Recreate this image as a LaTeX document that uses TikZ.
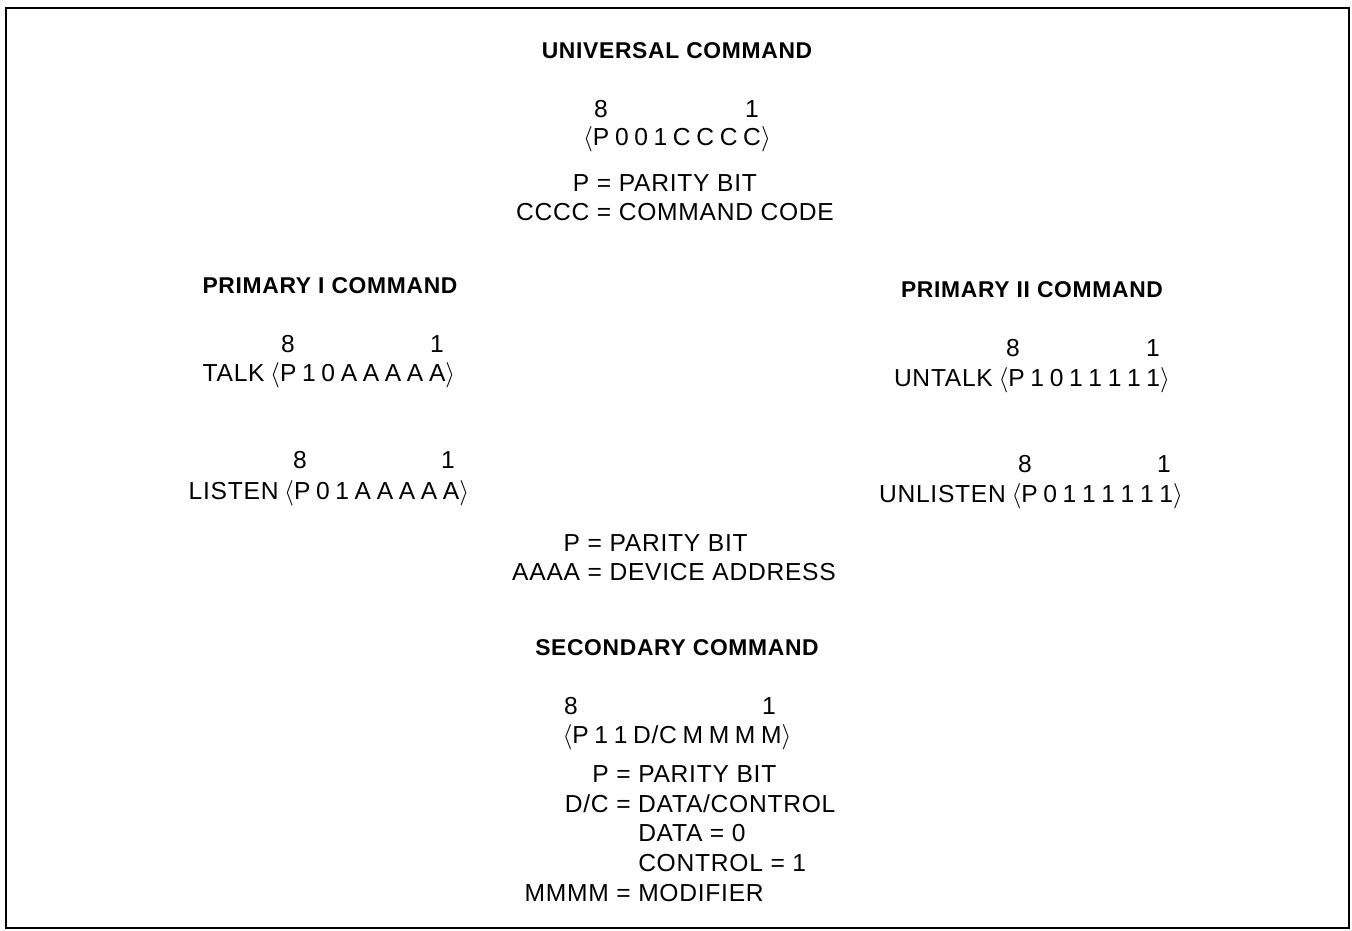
\documentclass[tikz,border=0pt]{standalone}
\usepackage{fontspec}
\setmainfont{Liberation Sans}[LetterSpace=3]
\usetikzlibrary{positioning}

\begin{document}
\begin{tikzpicture}[x=0.02cm, y=-0.02cm,
    txt/.style={anchor=base, inner sep=0pt, font=\fontsize{14}{17}\selectfont},
    bits/.style={txt, font={\fontsize{14}{17}\selectfont\spaceskip 0.23em\relax}},
    head/.style={txt, font=\fontsize{13}{17}\selectfont\bfseries},
    key/.style={inner sep=0pt, font=\fontsize{14}{17}\selectfont},
  ]
    \useasboundingbox (0,0) rectangle (1352,930);
    \draw[line width=1.2pt] (6,8) rectangle (1349,928);

    % ─── Universal command ───
    \node[head] (univ) at (677,58) {UNIVERSAL COMMAND};
    \node[txt] (univhi) at (601,117) {8};
    \node[txt] (univlo) at (752,117) {1};
    \node[bits] (univbits) at (677,145) {$\langle$P 0 0 1 C C C C$\rangle$};
    \node[key] (univkey) at (675,200)
      {\begin{tabular}{@{}r@{\ =\ }l@{}}
         P & PARITY BIT\\
         CCCC & COMMAND CODE
       \end{tabular}};

    % ─── Primary I command ───
    \node[head] (primone) at (330,293) {PRIMARY I COMMAND};
    \node[txt] (talkhi) at (288,352) {8};
    \node[txt] (talklo) at (437,352) {1};
    \node[bits] (talk) at (329,381) {TALK $\langle$P 1 0 A A A A A$\rangle$};
    \node[txt] (listenhi) at (300,468) {8};
    \node[txt] (listenlo) at (448,468) {1};
    \node[bits] (listen) at (329,499) {LISTEN $\langle$P 0 1 A A A A A$\rangle$};

    % ─── Primary II command ───
    \node[head] (primtwo) at (1032,297) {PRIMARY II COMMAND};
    \node[txt] (untalkhi) at (1013,356) {8};
    \node[txt] (untalklo) at (1153,356) {1};
    \node[bits] (untalk) at (1032,386) {UNTALK $\langle$P 1 0 1 1 1 1 1$\rangle$};
    \node[txt] (unlistenhi) at (1025,472) {8};
    \node[txt] (unlistenlo) at (1164,472) {1};
    \node[bits] (unlisten) at (1031,502) {UNLISTEN $\langle$P 0 1 1 1 1 1 1$\rangle$};

    \node[key] (primkey) at (674,560)
      {\begin{tabular}{@{}r@{\ =\ }l@{}}
         P & PARITY BIT\\
         AAAA & DEVICE ADDRESS
       \end{tabular}};

    % ─── Secondary command ───
    \node[head] (second) at (677,655) {SECONDARY COMMAND};
    \node[txt] (secondhi) at (571,714) {8};
    \node[txt] (secondlo) at (769,714) {1};
    \node[bits] (secondbits) at (677,743) {$\langle$P 1 1 D/C M M M M$\rangle$};
    \node[key] (secondkey) at (680,836)
      {\begin{tabular}{@{}r@{\ }c@{\ }l@{}}
         P & = & PARITY BIT\\
         D/C & = & DATA/CONTROL\\
             &   & DATA = 0\\
             &   & CONTROL = 1\\
         MMMM & = & MODIFIER
       \end{tabular}};
\end{tikzpicture}
\end{document}
